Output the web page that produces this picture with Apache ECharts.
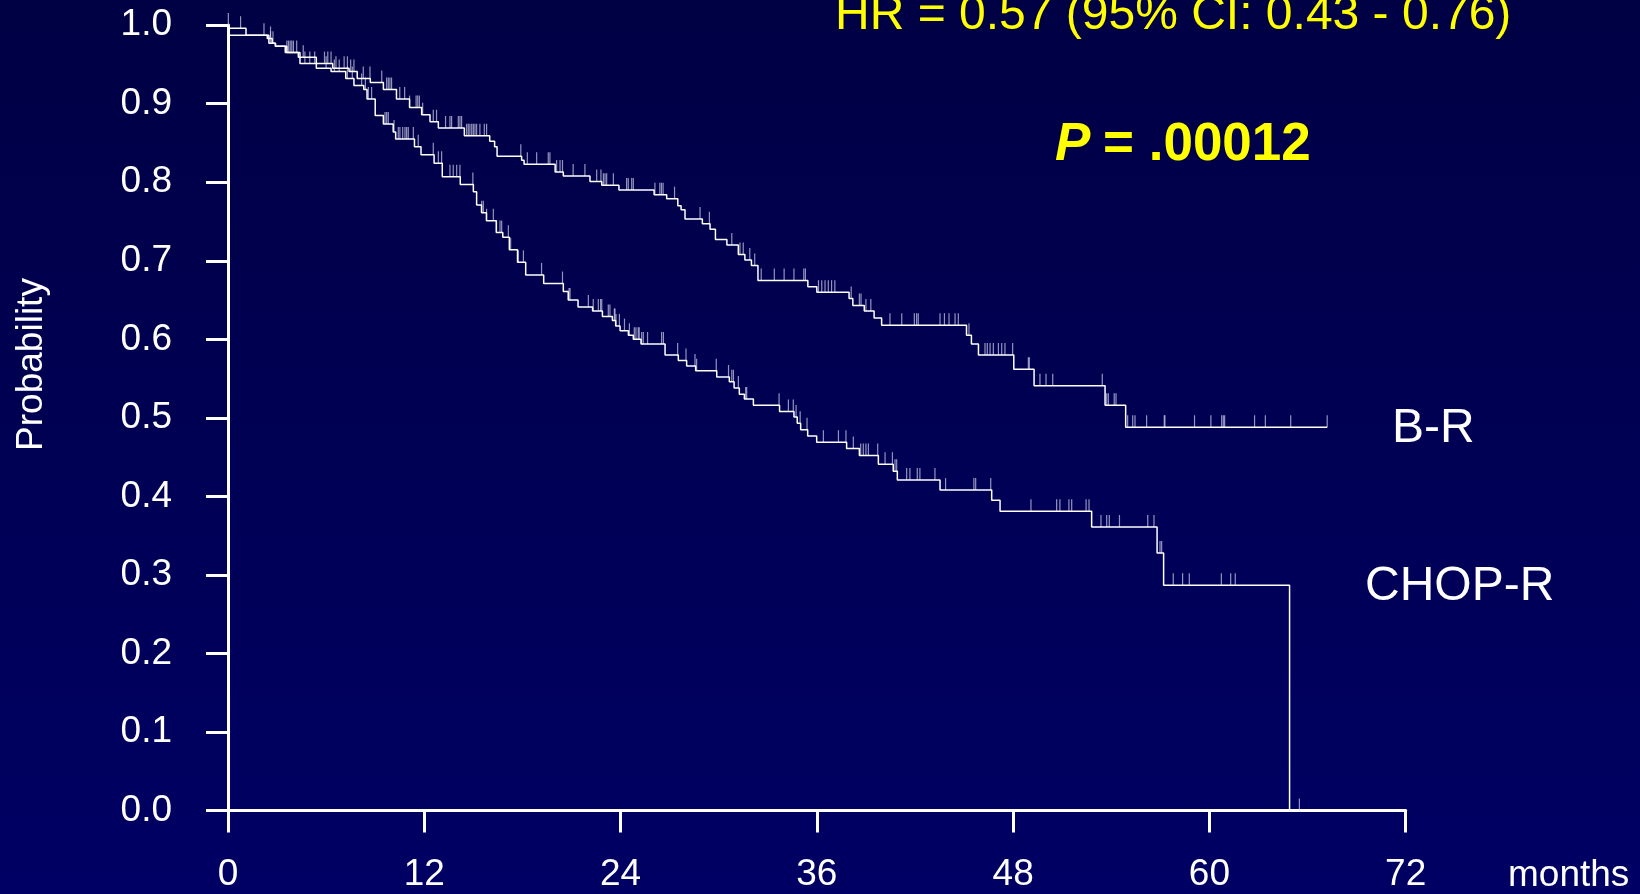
<!DOCTYPE html>
<html>
<head>
<meta charset="utf-8">
<script src="https://cdn.jsdelivr.net/npm/echarts@6/dist/echarts.min.js"></script>
<style>
  html, body { margin: 0; padding: 0; background: #000050; }
  #main { width: 1640px; height: 894px; }
</style>
</head>
<body>
<div id="main"></div>
<script>
// ---- data (months, survival probability) ----
const xTicks = [0, 12, 24, 36, 48, 60, 72];
const yTicks = [0, 0.1, 0.2, 0.3, 0.4, 0.5, 0.6, 0.7, 0.8, 0.9, 1.0];

const brTimes = [0, 0.05, 1.1, 2.4, 2.7, 2.9, 3.6, 4.3, 5.4, 6.4, 7.4, 7.9, 8.7, 9.5, 10.3, 11.1, 11.84, 12.35, 12.86, 14.45, 16.0, 16.3, 16.45, 17.95, 18.1, 20.0, 20.5, 22.13, 22.85, 23.9, 26.05, 26.82, 27.5, 27.7, 27.94, 29.0, 29.47, 29.8, 30.5, 31.2, 31.6, 32.0, 32.4, 35.45, 36.0, 37.97, 38.2, 38.9, 39.5, 39.96, 45.15, 45.45, 45.88, 48.04, 49.28, 53.62, 54.88, 67.2];
const brSurv = [1.0, 0.996, 0.987, 0.983, 0.977, 0.973, 0.965, 0.959, 0.951, 0.945, 0.941, 0.932, 0.927, 0.918, 0.906, 0.895, 0.886, 0.877, 0.869, 0.859, 0.852, 0.845, 0.833, 0.828, 0.823, 0.813, 0.808, 0.801, 0.796, 0.790, 0.784, 0.779, 0.770, 0.765, 0.753, 0.747, 0.740, 0.727, 0.720, 0.708, 0.701, 0.694, 0.675, 0.667, 0.660, 0.652, 0.643, 0.636, 0.627, 0.618, 0.605, 0.594, 0.580, 0.562, 0.541, 0.516, 0.488, 0.488];
const brCensor = [0.02, 0.77, 2.2, 2.6, 3.6, 3.8, 4.0, 4.6, 5.9, 6.1, 6.3, 6.6, 7.1, 7.3, 7.5, 7.7, 8.27, 8.68, 9.4, 9.7, 9.8, 9.9, 10.0, 10.5, 10.8, 11.1, 11.5, 11.6, 11.7, 11.9, 12.55, 12.75, 13.3, 13.57, 13.67, 14.08, 14.18, 14.28, 14.59, 14.69, 14.79, 14.9, 15.0, 15.1, 15.2, 15.4, 15.67, 15.81, 17.9, 18.3, 18.87, 19.58, 19.68, 20.09, 20.3, 20.45, 21.1, 21.82, 22.54, 22.8, 22.95, 23.05, 23.15, 23.56, 24.37, 24.47, 24.68, 24.78, 26.1, 26.4, 26.5, 26.6, 27.3, 28.86, 29.43, 30.8, 31.3, 31.5, 31.9, 32.2, 32.6, 33.4, 34.0, 34.6, 35.2, 35.3, 36.1, 36.3, 36.5, 36.7, 36.9, 37.1, 38.1, 38.6, 38.7, 39.0, 39.3, 40.47, 41.19, 41.96, 42.1, 42.2, 43.53, 43.8, 44.08, 44.45, 44.65, 45.3, 46.28, 46.42, 46.59, 46.79, 47.1, 47.3, 47.5, 47.97, 48.93, 48.99, 49.64, 50.01, 50.42, 53.45, 53.72, 53.82, 54.18, 54.29, 55.0, 55.31, 55.45, 56.16, 57.24, 57.28, 59.09, 60.09, 60.75, 60.85, 60.93, 62.76, 63.42, 64.97, 67.2];

const chopTimes = [0, 0.05, 2.5, 2.9, 3.5, 4.4, 5.4, 6.3, 7.2, 7.7, 8.3, 8.5, 9.0, 9.5, 10.1, 10.25, 11.4, 11.8, 12.6, 13.1, 14.2, 15.0, 15.2, 15.5, 15.8, 16.4, 16.8, 17.2, 17.7, 18.2, 19.3, 20.5, 20.8, 21.4, 22.29, 22.89, 23.5, 23.7, 23.97, 24.48, 24.78, 25.25, 26.72, 27.53, 28.04, 28.59, 29.88, 30.65, 30.94, 31.26, 31.57, 32.12, 33.72, 34.6, 34.8, 35.01, 35.44, 35.99, 37.82, 38.6, 39.76, 40.67, 40.92, 43.53, 46.69, 47.2, 52.8, 56.8, 57.2, 64.9];
const chopSurv = [1.0, 0.987, 0.977, 0.973, 0.965, 0.951, 0.945, 0.941, 0.932, 0.923, 0.918, 0.906, 0.885, 0.874, 0.864, 0.855, 0.845, 0.835, 0.824, 0.807, 0.797, 0.788, 0.771, 0.761, 0.751, 0.736, 0.730, 0.714, 0.698, 0.682, 0.671, 0.661, 0.650, 0.641, 0.636, 0.629, 0.624, 0.617, 0.611, 0.605, 0.600, 0.594, 0.580, 0.573, 0.566, 0.560, 0.552, 0.546, 0.538, 0.530, 0.524, 0.516, 0.508, 0.501, 0.493, 0.485, 0.477, 0.469, 0.461, 0.452, 0.441, 0.432, 0.421, 0.408, 0.395, 0.381, 0.361, 0.328, 0.287, 0];
const chopCensor = [2.6, 2.75, 3.7, 3.9, 4.2, 4.7, 5.0, 5.3, 6.0, 6.5, 6.8, 7.3, 7.6, 8.17, 8.4, 8.58, 8.78, 9.6, 9.7, 9.8, 10.15, 10.41, 10.51, 10.68, 10.82, 10.92, 11.02, 11.33, 11.63, 12.55, 12.86, 13.06, 13.57, 13.77, 13.98, 14.18, 14.97, 15.51, 15.61, 15.81, 16.22, 16.42, 16.63, 16.73, 17.14, 17.28, 17.75, 18.06, 19.17, 20.45, 20.85, 20.91, 22.03, 22.33, 22.64, 22.78, 22.85, 23.25, 23.35, 23.62, 23.66, 23.72, 23.93, 24.24, 24.54, 24.84, 24.94, 25.08, 25.14, 25.29, 25.39, 25.65, 26.51, 26.62, 27.49, 28.0, 28.55, 28.65, 29.85, 30.6, 30.8, 30.9, 31.2, 31.65, 31.71, 33.69, 34.26, 34.56, 34.73, 34.98, 35.4, 36.4, 37.32, 37.78, 38.23, 38.68, 38.84, 39.0, 39.15, 39.72, 40.17, 40.62, 40.78, 40.88, 41.49, 41.69, 42.14, 42.3, 43.22, 43.87, 45.6, 45.71, 46.63, 49.09, 50.66, 50.86, 51.41, 51.58, 52.46, 52.64, 53.37, 53.72, 53.88, 54.5, 56.23, 56.61, 56.98, 57.08, 57.79, 58.36, 58.77, 60.73, 61.3, 61.58, 65.5];

const seriesNames = ['B-R', 'CHOP-R'];
const hrText = 'HR = 0.57 (95% CI: 0.43 - 0.76)';
const pLetter = 'P';
const pValue = '= .00012';
const xName = 'months';
const yName = 'Probability';

// ---- helpers ----
function stepAt(times, surv, t) {
  let v = surv[0];
  for (let i = 0; i < times.length; i++) { if (times[i] <= t) v = surv[i]; else break; }
  return v;
}
const toPairs = (ts, ss) => ts.map((t, i) => [t, ss[i]]);
const censorPairs = (cs, ts, ss) => cs.map(t => [t, stepAt(ts, ss, t)]);

const FONT = "'Liberation Sans', Arial, Helvetica, sans-serif";
const chart = echarts.init(document.getElementById('main'));

const lineStyle = { color: '#ffffff', width: 1.5 };
const censorStyle = { color: 'rgba(215,215,240,0.85)' };

chart.setOption({
  animation: false,
  backgroundColor: new echarts.graphic.LinearGradient(0, 0, 0, 1, [
    { offset: 0, color: '#000044' },
    { offset: 1, color: '#000064' }
  ]),
  grid: { left: 228, right: 234.3, top: 25.1, bottom: 83.4, containLabel: false },
  xAxis: {
    type: 'value', min: xTicks[0], max: xTicks[xTicks.length - 1], interval: 12,
    axisLine: { show: true, lineStyle: { color: '#ffffff', width: 3 } },
    axisTick: { show: true, inside: false, length: 22, lineStyle: { color: '#ffffff', width: 3 } },
    axisLabel: { show: true, color: '#ffffff', fontSize: 37, fontFamily: FONT, margin: 46 },
    splitLine: { show: false }
  },
  yAxis: {
    type: 'value', min: yTicks[0], max: yTicks[yTicks.length - 1], interval: 0.1,
    axisLine: { show: true, lineStyle: { color: '#ffffff', width: 3 } },
    axisTick: { show: true, inside: false, length: 22, lineStyle: { color: '#ffffff', width: 3 } },
    axisLabel: { show: true, color: '#ffffff', fontSize: 37, fontFamily: FONT, margin: 56,
      formatter: v => v.toFixed(1) },
    splitLine: { show: false }
  },
  series: [
    { name: seriesNames[0], type: 'line', step: 'end', symbol: 'none', data: toPairs(brTimes, brSurv),
      lineStyle: lineStyle, z: 3 },
    { name: seriesNames[1], type: 'line', step: 'end', symbol: 'none', data: toPairs(chopTimes, chopSurv),
      lineStyle: lineStyle, z: 3 },
    { name: seriesNames[0] + ' censored', type: 'scatter', symbol: 'rect', symbolSize: [1.2, 12], symbolOffset: [0, -6],
      data: censorPairs(brCensor, brTimes, brSurv), itemStyle: censorStyle, z: 2 },
    { name: seriesNames[1] + ' censored', type: 'scatter', symbol: 'rect', symbolSize: [1.2, 12], symbolOffset: [0, -6],
      data: censorPairs(chopCensor, chopTimes, chopSurv), itemStyle: censorStyle, z: 2 }
  ],
  graphic: [
    { type: 'text', x: 835, y: 15.8, style: { text: hrText, fill: '#ffff00', fontSize: 48, fontFamily: FONT,
      textAlign: 'left', textVerticalAlign: 'middle' } },
    { type: 'text', x: 1055, y: 145.3, style: { text: pLetter, fill: '#ffff00', fontSize: 53, fontFamily: FONT,
      fontWeight: 'bold', fontStyle: 'italic', textAlign: 'left', textVerticalAlign: 'middle' } },
    { type: 'text', x: 1103, y: 145.3, style: { text: pValue, fill: '#ffff00', fontSize: 53, fontFamily: FONT,
      fontWeight: 'bold', textAlign: 'left', textVerticalAlign: 'middle' } },
    { type: 'text', x: 1392, y: 429.1, style: { text: seriesNames[0], fill: '#ffffff', fontSize: 48, fontFamily: FONT,
      textAlign: 'left', textVerticalAlign: 'middle' } },
    { type: 'text', x: 1365, y: 586.8, style: { text: seriesNames[1], fill: '#ffffff', fontSize: 48, fontFamily: FONT,
      textAlign: 'left', textVerticalAlign: 'middle' } },
    { type: 'text', x: 1508, y: 875.8, style: { text: xName, fill: '#ffffff', fontSize: 37, fontFamily: FONT,
      textAlign: 'left', textVerticalAlign: 'middle' } },
    { type: 'text', x: 31.5, y: 364.5, rotation: Math.PI / 2, style: { text: yName, fill: '#ffffff', fontSize: 37,
      fontFamily: FONT, textAlign: 'center', textVerticalAlign: 'middle' } }
  ]
});
</script>
</body>
</html>
